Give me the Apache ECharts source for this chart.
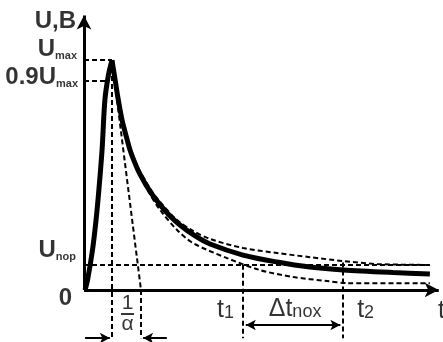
<!DOCTYPE html>
<html>
<head>
<meta charset="utf-8">
<script src="https://cdn.jsdelivr.net/npm/echarts@6/dist/echarts.min.js"></script>
<style>
  html, body { margin: 0; padding: 0; background: #fff; }
  #main { width: 443px; height: 342px; }
</style>
</head>
<body>
<div id="main"></div>
<script>
// time in arbitrary units, voltage in % of Umax
const riseT = [0.3, 1.0, 2.4, 3.4, 4.2, 5.1, 5.9, 6.9, 7.9];
const riseU = [0, 4.3, 17.4, 30.4, 43.5, 60.9, 82.6, 93.5, 100];
const decayT = [7.9, 8.8, 9.6, 10.7, 11.9, 13.0, 14.4, 15.8, 18.6, 21.5, 24.3, 27.1, 31.4, 35.6, 44.9, 54.5, 63.8, 73.2, 87.3, 97.7];
const decayU = [100, 91.3, 83.5, 74.3, 67.0, 60.9, 55.2, 50.4, 43.0, 37.0, 32.2, 28.3, 23.5, 20.0, 15.2, 12.2, 10.0, 8.7, 7.6, 7.0];
const upperT = [7.9, 9.6, 11.9, 14.4, 18.6, 21.5, 26.3, 30.8, 35.6, 44.9, 54.5, 63.8, 73.2, 82.8, 97.7];
const upperU = [100, 83.9, 67.8, 56.1, 44.3, 38.3, 30.4, 25.7, 22.2, 18.3, 16.1, 14.3, 12.6, 11.3, 10.9];
const lowerT = [7.9, 9.6, 11.9, 14.4, 18.6, 21.5, 26.3, 30.8, 40.4, 49.7, 59.0, 68.6, 74.3, 97.7];
const lowerU = [100, 82.6, 66.1, 54.3, 41.7, 34.8, 26.1, 20.4, 13.9, 8.7, 5.7, 3.9, 3.0, 3.0];

// levels on U axis: Umax, 0.9Umax, Unop
const levelU = [100, 91, 11];
// times: peak, foot of tangent (1/alpha), t1, t2, end of curves
const markT = [7.9, 16.1, 44.9, 73.2, 97.7];
const T_START = 6.5; // where 0.9Umax meets the rising edge
// axis ranges
const T_MAX = 101.4, U_MIN = -22.6, U_MAX = 120.9;
const U_DIM = -21; // bottom of the dimension lines
const U_ARROW1 = -20.9, U_ARROW2 = -15.2;
const T_ARROW_R = 23.4; // tail of the right 1/alpha arrow

const yLabels = ['{b|U,B}', '{b|U}{bs|max}', '{b|0.9U}{bs|max}', '{b|U}{bs|nop}', '{b|0}'];
const xLabels = ['{n|1}\n{bar| }\n{n|α}', '{t|t}{ts|1}', '{t|Δt}{ts|nox}', '{t|t}{ts|2}', '{t|t}'];

const [tPeak, tAlpha, t1, t2, tEnd] = markT;
const [uMax, u09, uNop] = levelU;

const zip = (xs, ys) => xs.map((x, i) => [x, ys[i]]);
const seg = (a, b) => [{ coord: a }, { coord: b }];

const FONT = 'Liberation Sans';
const rich = {
  b: { fontFamily: FONT, fontWeight: 'bold', fontSize: 24, color: '#000' },
  bs: { fontFamily: FONT, fontWeight: 'bold', fontSize: 11, color: '#000', verticalAlign: 'bottom' },
  t: { fontFamily: FONT, fontSize: 25, color: '#000' },
  ts: { fontFamily: FONT, fontSize: 18, color: '#000', verticalAlign: 'bottom' },
  n: { fontFamily: FONT, fontSize: 21, lineHeight: 17, color: '#000', align: 'center' },
  bar: { width: 13, height: 2, lineHeight: 4, fontSize: 1, backgroundColor: '#000', align: 'center' }
};

function note(t, u, text, align, dx, dy) {
  return {
    value: [t, u],
    label: { show: true, position: 'inside', formatter: text, align: align, verticalAlign: 'middle', offset: [dx, dy], rich: rich }
  };
}

const chartDom = document.getElementById('main');
const myChart = echarts.init(chartDom);

const dash = { type: [5, 3], width: 2, color: '#000' };
const curve = { color: '#000', width: 5 };
const thin = { type: 'solid', width: 2, color: '#000' };

const option = {
  animation: false,
  grid: { left: 84, right: 0, top: 12, bottom: 0 },
  xAxis: { type: 'value', min: 0, max: T_MAX, show: false },
  yAxis: { type: 'value', min: U_MIN, max: U_MAX, show: false },
  series: [
    {
      type: 'line', data: zip(upperT, upperU), smooth: 0.3, showSymbol: false,
      lineStyle: dash
    },
    {
      type: 'line', data: zip(lowerT, lowerU), smooth: 0.3, showSymbol: false,
      lineStyle: dash
    },
    {
      type: 'line', data: zip(riseT, riseU), smooth: 0.3, showSymbol: false,
      lineStyle: curve
    },
    {
      type: 'line', data: zip(decayT, decayU), smooth: 0.3, showSymbol: false,
      lineStyle: curve
    },
    {
      // dashed guide lines
      type: 'line', data: [[0, 0]], showSymbol: false, lineStyle: { opacity: 0 }, clip: false,
      markLine: {
        silent: true, symbol: 'none', label: { show: false }, lineStyle: dash,
        emphasis: { disabled: true },
        data: [
          seg([0, uMax], [tPeak, uMax]),
          seg([0, u09], [T_START, u09]),
          seg([0, uNop], [tEnd, uNop]),
          seg([tPeak, uMax], [tPeak, U_DIM]),
          seg([tPeak, uMax], [tAlpha, 0]),
          seg([tAlpha, 0], [tAlpha, U_DIM]),
          seg([t1, uNop], [t1, U_DIM]),
          seg([t2, uNop + 1], [t2, U_DIM])
        ]
      }
    },
    {
      // axes and dimension arrows
      type: 'line', data: [[0, 0]], showSymbol: false, lineStyle: { opacity: 0 }, clip: false,
      markLine: {
        silent: true, label: { show: false }, emphasis: { disabled: true },
        lineStyle: { type: 'solid', width: 3, color: '#000' },
        symbol: ['none', 'arrow'], symbolSize: [11, 14],
        data: [
          seg([0, 0], [T_MAX - 1.2, 0]),
          seg([0, 0], [0, U_MAX - 1.5]),
          [{ coord: [riseT[0], U_ARROW1], lineStyle: thin, symbol: 'none' }, { coord: [tPeak - 0.6, U_ARROW1], symbol: 'arrow', symbolSize: [8, 10] }],
          [{ coord: [T_ARROW_R, U_ARROW1], lineStyle: thin, symbol: 'none' }, { coord: [tAlpha + 0.6, U_ARROW1], symbol: 'arrow', symbolSize: [8, 10] }],
          [{ coord: [t1 + 0.8, U_ARROW2], lineStyle: thin, symbol: 'arrow', symbolSize: [8, 10] }, { coord: [t2 - 0.8, U_ARROW2], symbol: 'arrow', symbolSize: [8, 10] }]
        ]
      }
    },
    {
      // text
      type: 'scatter', symbolSize: 0, silent: true, clip: false,
      data: [
        note(0, U_MAX, yLabels[0], 'right', -8, 9),
        note(0, uMax, yLabels[1], 'right', -7, -11),
        note(0, u09, yLabels[2], 'right', -6, -3),
        note(0, uNop, yLabels[3], 'right', -8, -14),
        note(0, 0, yLabels[4], 'right', -12, 8),
        note((tPeak + tAlpha) / 2, 0, xLabels[0], 'center', 1, 24),
        note(t1, 0, xLabels[1], 'right', -9, 20),
        note((t1 + t2) / 2, 0, xLabels[2], 'center', 2, 19),
        note(t2, 0, xLabels[3], 'left', 14, 20),
        note(T_MAX, 0, xLabels[4], 'right', 2, 21)
      ]
    }
  ]
};

option && myChart.setOption(option);
</script>
</body>
</html>
